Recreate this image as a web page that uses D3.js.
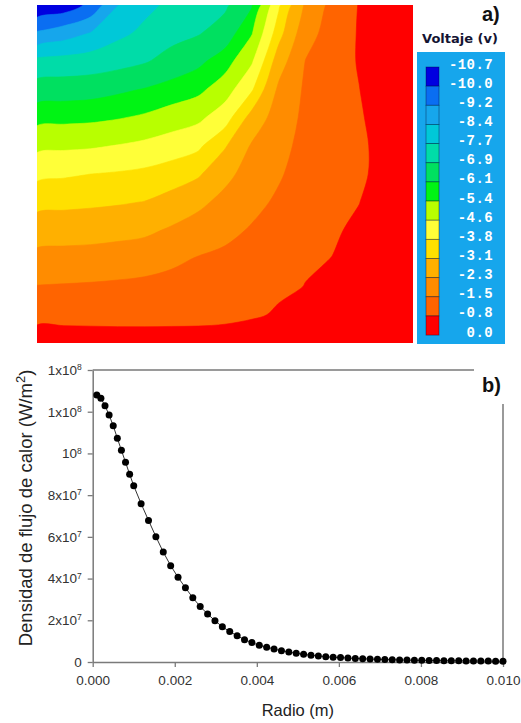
<!DOCTYPE html>
<html>
<head>
<meta charset="utf-8">
<script src="https://cdn.jsdelivr.net/npm/d3@7"></script>
<style>
  body { margin: 0; background: #fff; }
  svg { display: block; }
</style>
</head>
<body>
<svg id="chart" width="521" height="723"></svg>
<script>
// ---------- data: panel a) ----------
// legend levels, top to bottom
const nivelesVoltaje = [-10.7, -10.0, -9.2, -8.4, -7.7, -6.9, -6.1, -5.4, -4.6, -3.8, -3.1, -2.3, -1.5, -0.8, 0.0];
const etiquetasVoltaje = ["-10.7", "-10.0", "-9.2", "-8.4", "-7.7", "-6.9", "-6.1", "-5.4", "-4.6", "-3.8", "-3.1", "-2.3", "-1.5", "-0.8", "0.0"];
const coloresBanda = ["#0000e0", "#0a6ef2", "#16a6ec", "#00c8d8", "#00dca8", "#00e060", "#00f414",
                      "#b8ff00", "#ffff38", "#ffe000", "#ffb000", "#ff8c00", "#ff6400", "#ff0000"];

// voltage on a 15 x 13 grid (rows top -> bottom, columns left -> right)
const voltajeGrid = [
  [-10.70, -10.50, -9.80, -8.42, -7.90, -7.55, -7.29, -7.04, -6.17, -3.93, -2.18, -1.27, -0.77, -0.38, 0],
  [-9.10, -8.74, -8.37, -7.89, -7.54, -7.16, -6.96, -6.53, -5.45, -3.38, -1.79, -1.19, -0.75, -0.37, 0],
  [-7.50, -7.44, -7.36, -7.19, -6.97, -6.62, -6.27, -5.73, -4.69, -2.69, -1.48, -1.14, -0.75, -0.38, 0],
  [-6.52, -6.46, -6.40, -6.24, -6.06, -5.82, -5.59, -4.97, -3.88, -2.15, -1.39, -1.10, -0.81, -0.40, 0],
  [-5.64, -5.60, -5.56, -5.45, -5.29, -5.05, -4.78, -4.14, -2.81, -1.92, -1.34, -1.09, -0.85, -0.59, 0],
  [-4.80, -4.74, -4.69, -4.57, -4.42, -4.18, -3.94, -3.17, -2.22, -1.73, -1.28, -1.07, -0.86, -0.69, 0],
  [-3.97, -3.89, -3.80, -3.73, -3.63, -3.46, -3.20, -2.53, -1.95, -1.57, -1.22, -1.03, -0.84, -0.72, 0],
  [-3.33, -3.28, -3.23, -3.17, -3.08, -2.84, -2.49, -2.06, -1.68, -1.40, -1.14, -0.97, -0.81, -0.43, 0],
  [-2.69, -2.65, -2.62, -2.55, -2.46, -2.20, -1.93, -1.67, -1.44, -1.25, -1.03, -0.88, -0.68, -0.34, 0],
  [-2.06, -2.02, -1.99, -1.92, -1.83, -1.65, -1.46, -1.36, -1.23, -1.07, -0.90, -0.79, -0.53, -0.26, 0],
  [-1.47, -1.44, -1.41, -1.37, -1.32, -1.26, -1.18, -1.12, -1.03, -0.97, -0.78, -0.52, -0.38, -0.19, 0],
  [-1.25, -1.30, -1.34, -1.38, -1.39, -1.36, -1.33, -1.20, -0.95, -0.68, -0.42, -0.27, -0.24, -0.12, 0],
  [0, 0, 0, 0, 0, 0, 0, 0, 0, 0, 0, 0, 0, 0, 0]
];

// ---------- data: panel b) ----------
const radio = [0.0001, 0.0002, 0.0003, 0.0004, 0.0005, 0.0006, 0.0007, 0.0008, 0.0009, 0.0010,
  0.00118, 0.00136, 0.00154, 0.00172, 0.0019, 0.00208, 0.00226, 0.00244, 0.00262, 0.0028,
  0.00298, 0.00316, 0.00334, 0.00352, 0.0037, 0.00388, 0.00406, 0.00424, 0.00442, 0.0046,
  0.00478, 0.00496, 0.00514, 0.00532, 0.0055, 0.00568, 0.00586, 0.00604, 0.00622, 0.0064,
  0.00658, 0.00676, 0.00694, 0.00712, 0.0073, 0.00748, 0.00766, 0.00784, 0.00802, 0.0082,
  0.00838, 0.00856, 0.00874, 0.00892, 0.0091, 0.00928, 0.00946, 0.00964, 0.00982, 0.0100];
const flujo = [1.280e8, 1.264e8, 1.229e8, 1.184e8, 1.133e8, 1.073e8, 1.015e8, 0.958e8, 0.900e8, 0.845e8,
  0.759e8, 0.679e8, 0.601e8, 0.527e8, 0.462e8, 0.406e8, 0.356e8, 0.308e8, 0.266e8, 0.230e8,
  0.198e8, 0.169e8, 0.146e8, 0.126e8, 0.107e8, 0.093e8, 0.080e8, 0.071e8, 0.062e8, 0.054e8,
  0.048e8, 0.042e8, 0.037e8, 0.032e8, 0.029e8, 0.025e8, 0.023e8, 0.021e8, 0.019e8, 0.017e8,
  0.0155e8, 0.014e8, 0.013e8, 0.012e8, 0.011e8, 0.010e8, 0.009e8, 0.0085e8, 0.008e8, 0.0075e8,
  0.007e8, 0.0065e8, 0.006e8, 0.0056e8, 0.0052e8, 0.0048e8, 0.0045e8, 0.0042e8, 0.004e8, 0.0038e8];

const xTicks = [0, 0.002, 0.004, 0.006, 0.008, 0.010];
const yTicks = [0, 2e7, 4e7, 6e7, 8e7, 1e8, 1.2e8, 1.4e8];
const yTickBase = ["0", "2x10", "4x10", "6x10", "8x10", "10", "1x10", "1x10"];
const yTickExp = ["", "7", "7", "7", "7", "8", "8", "8"];

const svg = d3.select("#chart");

// ===== panel a) contour map =====
const mapa = { x0: 37, x1: 413, y0: 5, y1: 343 };

svg.append("defs").append("clipPath").attr("id", "clipMapa")
  .append("rect")
  .attr("x", mapa.x0).attr("y", mapa.y0)
  .attr("width", mapa.x1 - mapa.x0).attr("height", mapa.y1 - mapa.y0);

const nx = voltajeGrid[0].length, ny = voltajeGrid.length;
// grid samples sit on the map edges
const gx = d3.scaleLinear().domain([0.5, nx - 0.5]).range([mapa.x0, mapa.x1]);
const gy = d3.scaleLinear().domain([0.5, ny - 0.5]).range([mapa.y0, mapa.y1]);

const umbrales = nivelesVoltaje.slice(1, -1);
const bandas = d3.contours().size([nx, ny]).thresholds(umbrales)(voltajeGrid.flat());

// rounded outlines instead of marching-squares corners
const anillo = d3.line()
  .x(p => gx(p[0]))
  .y(p => gy(p[1]))
  .curve(d3.curveCatmullRomClosed.alpha(0.5));
function rutaBanda(mp) {
  let d = "";
  mp.coordinates.forEach(poly => poly.forEach(ring => { d += anillo(ring.slice(0, -1)); }));
  return d;
}

const gMapa = svg.append("g").attr("clip-path", "url(#clipMapa)");
gMapa.append("rect")
  .attr("x", mapa.x0).attr("y", mapa.y0)
  .attr("width", mapa.x1 - mapa.x0).attr("height", mapa.y1 - mapa.y0)
  .attr("fill", coloresBanda[0]);
gMapa.selectAll("path.banda")
  .data(bandas)
  .join("path")
  .attr("class", "banda")
  .attr("d", rutaBanda)
  .attr("fill-rule", "evenodd")
  .attr("fill", (d, i) => coloresBanda[i + 1])
  .attr("stroke", (d, i) => coloresBanda[i + 1])
  .attr("stroke-width", 0.6);

// legend
const ley = { x: 417, y: 52, w: 88, h: 292, sx: 426, sw: 13, top: 67, paso: 19.15 };
svg.append("rect")
  .attr("x", ley.x).attr("y", ley.y).attr("width", ley.w).attr("height", ley.h)
  .attr("fill", "#16a6ec");
svg.selectAll("rect.muestra")
  .data(coloresBanda)
  .join("rect")
  .attr("class", "muestra")
  .attr("x", ley.sx)
  .attr("y", (d, i) => ley.top + i * ley.paso)
  .attr("width", ley.sw)
  .attr("height", ley.paso)
  .attr("fill", d => d)
  .attr("stroke", "rgba(0,0,40,0.45)")
  .attr("stroke-width", 0.8);
svg.selectAll("text.nivel")
  .data(etiquetasVoltaje)
  .join("text")
  .attr("class", "nivel")
  .attr("x", 493)
  .attr("y", (d, i) => ley.top + i * ley.paso + 1.5)
  .attr("text-anchor", "end")
  .attr("font-family", "Liberation Mono, DejaVu Sans Mono, monospace")
  .attr("font-size", 14)
  .attr("font-weight", "bold")
  .attr("letter-spacing", 0.4)
  .attr("fill", "#fff")
  .text(d => d);
svg.append("text")
  .attr("x", 460).attr("y", 43)
  .attr("text-anchor", "middle")
  .attr("font-family", "DejaVu Sans, sans-serif")
  .attr("font-size", 13)
  .attr("font-weight", "bold")
  .attr("fill", "#141432")
  .text("Voltaje (v)");
svg.append("text")
  .attr("x", 482).attr("y", 21)
  .attr("font-family", "Liberation Sans, Arial, sans-serif")
  .attr("font-size", 20)
  .attr("font-weight", "bold")
  .attr("fill", "#111")
  .text("a)");

// ===== panel b) heat flux =====
const area = { x0: 92.7, x1: 503, y0: 370, y1: 662 };
const x = d3.scaleLinear().domain([0, 0.01]).range([area.x0, area.x1]);
const y = d3.scaleLinear().domain([0, 1.4e8]).range([area.y1, area.y0]);
const gris = "#7a7a7a";

// frame
svg.append("path")
  .attr("d", `M${area.x0},${area.y0}H${area.x1}V${area.y1}`)
  .attr("fill", "none").attr("stroke", gris).attr("stroke-width", 1.5);

const ejeX = svg.append("g")
  .attr("transform", `translate(0,${area.y1})`)
  .call(d3.axisBottom(x).tickValues(xTicks).tickFormat(d3.format(".3f"))
    .tickSize(5).tickSizeOuter(0).tickPadding(8));
const ejeY = svg.append("g")
  .attr("transform", `translate(${area.x0},0)`)
  .call(d3.axisLeft(y).tickValues(yTicks).tickFormat("")
    .tickSize(5).tickSizeOuter(0).tickPadding(6));

[ejeX, ejeY].forEach(g => {
  g.select(".domain").attr("stroke", gris).attr("stroke-width", 1.5);
  g.selectAll(".tick line").attr("stroke", gris).attr("stroke-width", 1.3);
  g.selectAll(".tick text")
    .attr("font-family", "Liberation Sans, Arial, sans-serif")
    .attr("font-size", 13.5)
    .attr("fill", "#333");
});

ejeY.selectAll(".tick text")
  .attr("font-size", 13.5)
  .each(function (d, i) {
    const t = d3.select(this);
    t.append("tspan").text(yTickBase[i]);
    if (yTickExp[i]) {
      t.append("tspan").attr("font-size", 8.5).attr("dy", "-0.55em").text(yTickExp[i]);
    }
  });

// curve and markers
const linea = d3.line().x((d, i) => x(radio[i])).y(d => y(d));
svg.append("path")
  .datum(flujo)
  .attr("d", linea)
  .attr("fill", "none")
  .attr("stroke", "#333")
  .attr("stroke-width", 1);
svg.selectAll("circle.punto")
  .data(flujo)
  .join("circle")
  .attr("class", "punto")
  .attr("cx", (d, i) => x(radio[i]))
  .attr("cy", d => y(d))
  .attr("r", 3.5)
  .attr("fill", "#000");

// axis titles
svg.append("text")
  .attr("x", (area.x0 + area.x1) / 2).attr("y", 716)
  .attr("text-anchor", "middle")
  .attr("font-family", "Liberation Sans, Arial, sans-serif")
  .attr("font-size", 16.5)
  .attr("fill", "#222")
  .text("Radio (m)");
const tituloY = svg.append("text")
  .attr("transform", "translate(32,508) rotate(-90)")
  .attr("text-anchor", "middle")
  .attr("font-family", "Liberation Sans, Arial, sans-serif")
  .attr("font-size", 18.5)
  .attr("fill", "#222");
tituloY.append("tspan").text("Densidad de flujo de calor (W/m");
tituloY.append("tspan").attr("font-size", 13).attr("dy", -7).text("2");
tituloY.append("tspan").attr("dy", 7).text(")");

// panel label b) sits on a white patch over the frame corner
svg.append("rect")
  .attr("x", 474).attr("y", 360).attr("width", 47).attr("height", 44)
  .attr("fill", "#fff");
svg.append("text")
  .attr("x", 482).attr("y", 392)
  .attr("font-family", "Liberation Sans, Arial, sans-serif")
  .attr("font-size", 20)
  .attr("font-weight", "bold")
  .attr("fill", "#111")
  .text("b)");
</script>
</body>
</html>
